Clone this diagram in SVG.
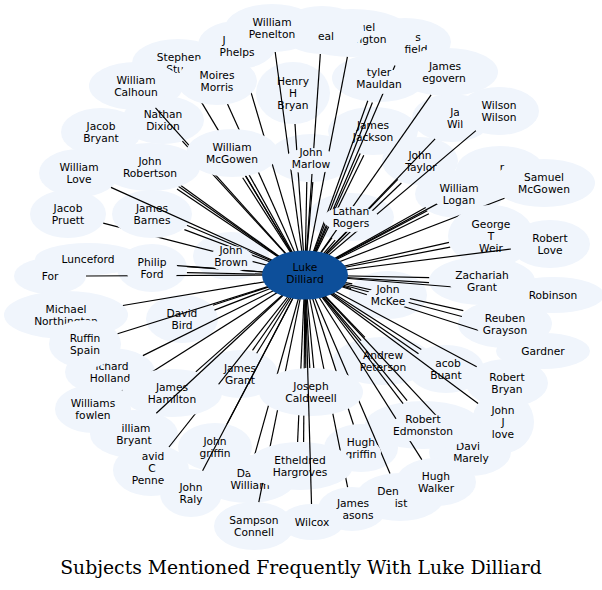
<svg xmlns="http://www.w3.org/2000/svg" width="602" height="590" viewBox="0 0 602 590">
<style>
.n ellipse{fill:#f0f5fc}
.n text{font-family:"DejaVu Sans","Liberation Sans",sans-serif;font-size:10.67px;fill:#000;text-anchor:middle}
#edges line{stroke:#000;stroke-width:1.2}
#n-luke ellipse{fill:#0d4f9a}
.title{font-family:"DejaVu Serif","Liberation Serif",serif;font-size:18.8px;fill:#000;text-anchor:middle}
.o{fill:#000}
</style>
<defs>
<mask id="occ" maskUnits="userSpaceOnUse" x="0" y="0" width="602" height="590">
<rect width="602" height="590" fill="#fff"/>
<ellipse class="o" cx="217" cy="81" rx="40" ry="24"/>
<ellipse class="o" cx="232" cy="153" rx="46" ry="24"/>
<ellipse class="o" cx="150" cy="167" rx="50" ry="24"/>
<ellipse class="o" cx="152" cy="214" rx="40" ry="24"/>
<ellipse class="o" cx="311" cy="392" rx="52" ry="24"/>
<ellipse class="o" cx="300" cy="466" rx="53" ry="24"/>
<ellipse class="o" cx="172" cy="393" rx="50" ry="24"/>
<ellipse class="o" cx="215" cy="447" rx="37" ry="24"/>
<ellipse class="o" cx="491" cy="236" rx="43" ry="31"/>
<ellipse class="o" cx="351" cy="219" rx="28" ry="13"/>
<ellipse class="o" cx="311" cy="161" rx="27" ry="13"/>
<ellipse class="o" cx="231" cy="259" rx="22" ry="13"/>
<ellipse class="o" cx="388" cy="298" rx="22" ry="13"/>
<ellipse class="o" cx="152" cy="270" rx="26" ry="17"/>
<ellipse class="o" cx="482" cy="284" rx="32" ry="13"/>
<ellipse class="o" cx="505" cy="327" rx="28" ry="13"/>
<ellipse class="o" cx="459" cy="197" rx="26" ry="13"/>
<ellipse class="o" cx="423" cy="428" rx="36" ry="14"/>
<ellipse class="o" cx="361" cy="452" rx="20" ry="12"/>
<ellipse class="o" cx="379" cy="81" rx="28" ry="13"/>
</mask>
</defs>
<rect width="602" height="590" fill="#fff"/>

<g id="n-hatfield" class="n"><ellipse cx="405" cy="42" rx="46" ry="24"/><text x="418" y="41">s</text><text x="416" y="53">field</text></g>
<g id="n-washington" class="n"><ellipse cx="352" cy="33" rx="59" ry="24"/><text x="367" y="31">uel</text><text x="371" y="43">ngton</text></g>
<g id="n-neal" class="n"><ellipse cx="322" cy="30" rx="42" ry="24"/><text x="326" y="40">eal</text></g>
<g id="n-stephen" class="n"><ellipse cx="178" cy="63" rx="46" ry="24"/><text x="179" y="61">Stephen</text><text x="175" y="73">Stu</text></g>
<g id="n-phelps" class="n"><ellipse cx="237" cy="45" rx="39" ry="24"/><text x="224" y="44">J</text><text x="237" y="56">Phelps</text></g>
<g id="n-jawil" class="n"><ellipse cx="452" cy="118" rx="40" ry="24"/><text x="455" y="116">Ja</text><text x="455" y="128">Wil</text></g>
<g id="n-rnode" class="n"><ellipse cx="500" cy="170" rx="44" ry="24"/><text x="502" y="171">r</text></g>
<g id="n-ford" class="n"><ellipse cx="50" cy="276" rx="36" ry="18"/><text x="50" y="280">For</text></g>
<g id="n-robinson" class="n"><ellipse cx="553" cy="295" rx="51" ry="18"/><text x="553" y="299">Robinson</text></g>
<g id="n-northington" class="n"><ellipse cx="66" cy="315" rx="62" ry="24"/><text x="66" y="313">Michael</text><text x="66" y="325">Northington</text></g>
<g id="n-holland" class="n"><ellipse cx="110" cy="372" rx="45" ry="24"/><text x="112" y="370">ichard</text><text x="110" y="382">Holland</text></g>
<g id="n-buant" class="n"><ellipse cx="446" cy="369" rx="38" ry="24"/><text x="448" y="367">acob</text><text x="446" y="379">Buant</text></g>
<g id="n-wbryant" class="n"><ellipse cx="134" cy="434" rx="44" ry="24"/><text x="136" y="432">illiam</text><text x="134" y="444">Bryant</text></g>
<g id="n-penne" class="n"><ellipse cx="151" cy="470" rx="38" ry="26"/><text x="153" y="460">avid</text><text x="152" y="472">C</text><text x="148" y="484">Penne</text></g>
<g id="n-marely" class="n"><ellipse cx="470" cy="452" rx="41" ry="24"/><text x="468" y="450">Davi</text><text x="471" y="462">Marely</text></g>
<g id="n-jlove" class="n"><ellipse cx="503" cy="422" rx="31" ry="31"/><text x="503" y="414">John</text><text x="503" y="426">J</text><text x="503" y="438">love</text></g>
<g id="n-dawilliams" class="n"><ellipse cx="248" cy="479" rx="48" ry="24"/><text x="244" y="477">Da</text><text x="250" y="489">William</text></g>
<g id="n-dennist" class="n"><ellipse cx="400" cy="497" rx="44" ry="24"/><text x="388" y="495">Den</text><text x="401" y="507">ist</text></g>
<g id="n-masons" class="n"><ellipse cx="352" cy="509" rx="34" ry="22"/><text x="353" y="507">James</text><text x="358" y="519">asons</text></g>

<g id="n-penelton" class="n"><ellipse cx="272" cy="28" rx="47" ry="24"/><text x="272" y="26">William</text><text x="272" y="38">Penelton</text></g>
<g id="n-tyler" class="n"><ellipse cx="379" cy="78" rx="47" ry="24"/><text x="379" y="76">tyler</text><text x="379" y="88">Mauldan</text></g>
<g id="n-mcgovern" class="n"><ellipse cx="447" cy="72" rx="51" ry="24"/><text x="445" y="70">James</text><text x="444" y="82">egovern</text></g>
<g id="n-wilson" class="n"><ellipse cx="499" cy="111" rx="40" ry="24"/><text x="499" y="109">Wilson</text><text x="499" y="121">Wilson</text></g>
<g id="n-calhoun" class="n"><ellipse cx="136" cy="86" rx="47" ry="24"/><text x="136" y="84">William</text><text x="136" y="96">Calhoun</text></g>
<g id="n-moires" class="n"><ellipse cx="217" cy="81" rx="40" ry="24"/><text x="217" y="79">Moires</text><text x="217" y="91">Morris</text></g>
<g id="n-henry" class="n"><ellipse cx="293" cy="93" rx="37" ry="31"/><text x="293" y="85">Henry</text><text x="293" y="97">H</text><text x="293" y="109">Bryan</text></g>
<g id="n-jacobbryant" class="n"><ellipse cx="101" cy="132" rx="40" ry="24"/><text x="101" y="130">Jacob</text><text x="101" y="142">Bryant</text></g>
<g id="n-nathan" class="n"><ellipse cx="163" cy="120" rx="41" ry="24"/><text x="163" y="118">Nathan</text><text x="163" y="130">Dixion</text></g>
<g id="n-wlove" class="n"><ellipse cx="79" cy="173" rx="40" ry="24"/><text x="79" y="171">William</text><text x="79" y="183">Love</text></g>
<g id="n-robertson" class="n"><ellipse cx="150" cy="167" rx="50" ry="24"/><text x="150" y="165">John</text><text x="150" y="177">Robertson</text></g>
<g id="n-pruett" class="n"><ellipse cx="68" cy="214" rx="38" ry="24"/><text x="68" y="212">Jacob</text><text x="68" y="224">Pruett</text></g>
<g id="n-barnes" class="n"><ellipse cx="152" cy="214" rx="40" ry="24"/><text x="152" y="212">James</text><text x="152" y="224">Barnes</text></g>
<g id="n-wmcgowen" class="n"><ellipse cx="232" cy="153" rx="46" ry="24"/><text x="232" y="151">William</text><text x="232" y="163">McGowen</text></g>
<g id="n-marlow" class="n"><ellipse cx="311" cy="158" rx="43" ry="24"/><text x="311" y="156">John</text><text x="311" y="168">Marlow</text></g>
<g id="n-jackson" class="n"><ellipse cx="373" cy="131" rx="45" ry="24"/><text x="373" y="129">James</text><text x="373" y="141">Jackson</text></g>
<g id="n-taylor" class="n"><ellipse cx="420" cy="161" rx="38" ry="24"/><text x="420" y="159">John</text><text x="421" y="171">Taylor</text></g>
<g id="n-samuelmcgowen" class="n"><ellipse cx="544" cy="183" rx="51" ry="24"/><text x="544" y="181">Samuel</text><text x="544" y="193">McGowen</text></g>
<g id="n-logan" class="n"><ellipse cx="459" cy="194" rx="44" ry="24"/><text x="459" y="192">William</text><text x="459" y="204">Logan</text></g>
<g id="n-lathan" class="n"><ellipse cx="351" cy="217" rx="43" ry="24"/><text x="351" y="215">Lathan</text><text x="351" y="227">Rogers</text></g>
<g id="n-weir" class="n"><ellipse cx="491" cy="236" rx="43" ry="31"/><text x="491" y="228">George</text><text x="491" y="240">T</text><text x="491" y="252">Weir</text></g>
<g id="n-rlove" class="n"><ellipse cx="550" cy="244" rx="40" ry="24"/><text x="550" y="242">Robert</text><text x="550" y="254">Love</text></g>
<g id="n-lunceford" class="n"><ellipse cx="88" cy="259" rx="53" ry="16"/><text x="88" y="263">Lunceford</text></g>
<g id="n-philip" class="n"><ellipse cx="152" cy="268" rx="35" ry="24"/><text x="152" y="266">Philip</text><text x="152" y="278">Ford</text></g>
<g id="n-brown" class="n"><ellipse cx="231" cy="256" rx="38" ry="24"/><text x="231" y="254">John</text><text x="231" y="266">Brown</text></g>
<g id="n-zachariah" class="n"><ellipse cx="482" cy="281" rx="53" ry="24"/><text x="482" y="279">Zachariah</text><text x="482" y="291">Grant</text></g>
<g id="n-mckee" class="n"><ellipse cx="388" cy="295" rx="39" ry="24"/><text x="388" y="293">John</text><text x="388" y="305">McKee</text></g>
<g id="n-bird" class="n"><ellipse cx="182" cy="319" rx="36" ry="24"/><text x="182" y="317">David</text><text x="182" y="329">Bird</text></g>
<g id="n-ruffin" class="n"><ellipse cx="85" cy="344" rx="36" ry="24"/><text x="85" y="342">Ruffin</text><text x="85" y="354">Spain</text></g>
<g id="n-grayson" class="n"><ellipse cx="505" cy="324" rx="47" ry="24"/><text x="505" y="322">Reuben</text><text x="505" y="334">Grayson</text></g>
<g id="n-gardner" class="n"><ellipse cx="543" cy="351" rx="47" ry="18"/><text x="543" y="355">Gardner</text></g>
<g id="n-peterson" class="n"><ellipse cx="383" cy="361" rx="50" ry="24"/><text x="383" y="359">Andrew</text><text x="383" y="371">Peterson</text></g>
<g id="n-grant" class="n"><ellipse cx="240" cy="374" rx="38" ry="24"/><text x="240" y="372">James</text><text x="240" y="384">Grant</text></g>
<g id="n-rbryan" class="n"><ellipse cx="507" cy="383" rx="41" ry="24"/><text x="507" y="381">Robert</text><text x="507" y="393">Bryan</text></g>
<g id="n-hamilton" class="n"><ellipse cx="172" cy="393" rx="50" ry="24"/><text x="172" y="391">James</text><text x="172" y="403">Hamilton</text></g>
<g id="n-fowlen" class="n"><ellipse cx="93" cy="409" rx="38" ry="24"/><text x="93" y="407">Williams</text><text x="93" y="419">fowlen</text></g>
<g id="n-caldweell" class="n"><ellipse cx="311" cy="392" rx="52" ry="24"/><text x="311" y="390">Joseph</text><text x="311" y="402">Caldweell</text></g>
<g id="n-edmonston" class="n"><ellipse cx="423" cy="425" rx="58" ry="24"/><text x="423" y="423">Robert</text><text x="423" y="435">Edmonston</text></g>
<g id="n-jgriffin" class="n"><ellipse cx="215" cy="447" rx="37" ry="24"/><text x="215" y="445">John</text><text x="215" y="457">griffin</text></g>
<g id="n-hgriffin" class="n"><ellipse cx="361" cy="448" rx="37" ry="24"/><text x="361" y="446">Hugh</text><text x="361" y="458">griffin</text></g>
<g id="n-etheldred" class="n"><ellipse cx="300" cy="466" rx="53" ry="24"/><text x="300" y="464">Etheldred</text><text x="300" y="476">Hargroves</text></g>
<g id="n-walker" class="n"><ellipse cx="436" cy="482" rx="40" ry="24"/><text x="436" y="480">Hugh</text><text x="436" y="492">Walker</text></g>
<g id="n-raly" class="n"><ellipse cx="191" cy="493" rx="31" ry="24"/><text x="191" y="491">John</text><text x="191" y="503">Raly</text></g>
<g id="n-wilcox" class="n"><ellipse cx="312" cy="522" rx="32" ry="18"/><text x="312" y="526">Wilcox</text></g>
<g id="n-sampson" class="n"><ellipse cx="254" cy="526" rx="40" ry="24"/><text x="254" y="524">Sampson</text><text x="254" y="536">Connell</text></g>

<g id="edges">
<g mask="url(#occ)">
<line x1="305" y1="275" x2="395" y2="65.4"/>
<line x1="305" y1="275" x2="347.4" y2="56.9"/>
<line x1="305" y1="275" x2="320.3" y2="54"/>
<line x1="305" y1="275" x2="191.7" y2="85.9"/>
<line x1="305" y1="275" x2="244" y2="68.6"/>
<line x1="305" y1="275" x2="435.1" y2="138.8"/>
<line x1="305" y1="275" x2="468.7" y2="186.9"/>
<line x1="305" y1="275" x2="86" y2="276"/>
<line x1="305" y1="275" x2="503.3" y2="291"/>
<line x1="305" y1="275" x2="122.9" y2="305.5"/>
<line x1="305" y1="275" x2="142.9" y2="355.6"/>
<line x1="305" y1="275" x2="418.5" y2="353.7"/>
<line x1="305" y1="275" x2="421.3" y2="349.5"/>
<line x1="305" y1="275" x2="169" y2="447"/>
<line x1="305" y1="275" x2="450.4" y2="430.9"/>
<line x1="305" y1="275" x2="478.1" y2="403.5"/>
<line x1="305" y1="275" x2="254.6" y2="455.2"/>
<line x1="305" y1="275" x2="390" y2="473.6"/>
<line x1="305" y1="275" x2="347.6" y2="487.2"/>
<line x1="305" y1="275" x2="275.2" y2="52"/>
<line x1="305" y1="275" x2="372.4" y2="102.5"/>
<line x1="305" y1="275" x2="367.8" y2="100.7"/>
<line x1="305" y1="275" x2="431.1" y2="94.8"/>
<line x1="305" y1="275" x2="475.9" y2="130.6"/>
<line x1="305" y1="275" x2="155.5" y2="107.8"/>
<line x1="305" y1="275" x2="227.5" y2="104.1"/>
<line x1="305" y1="275" x2="295" y2="124"/>
<line x1="305" y1="275" x2="127" y2="150.2"/>
<line x1="305" y1="275" x2="182.4" y2="141.2"/>
<line x1="305" y1="275" x2="179.8" y2="184.7"/>
<line x1="305" y1="275" x2="177" y2="188.9"/>
<line x1="305" y1="275" x2="103.2" y2="223.1"/>
<line x1="305" y1="275" x2="186.2" y2="225"/>
<line x1="305" y1="275" x2="184.4" y2="229.6"/>
<line x1="305" y1="275" x2="245.7" y2="175.9"/>
<line x1="305" y1="275" x2="248.7" y2="174.1"/>
<line x1="305" y1="275" x2="242.7" y2="177.7"/>
<line x1="305" y1="275" x2="306.8" y2="182"/>
<line x1="305" y1="275" x2="312.8" y2="182"/>
<line x1="305" y1="275" x2="363.8" y2="155.2"/>
<line x1="305" y1="275" x2="360.2" y2="153.4"/>
<line x1="305" y1="275" x2="401.4" y2="183"/>
<line x1="305" y1="275" x2="397.8" y2="179.4"/>
<line x1="305" y1="275" x2="504.5" y2="198.2"/>
<line x1="305" y1="275" x2="427.3" y2="210.7"/>
<line x1="305" y1="275" x2="428.9" y2="213.8"/>
<line x1="305" y1="275" x2="425.7" y2="207.6"/>
<line x1="305" y1="275" x2="335.2" y2="240.1"/>
<line x1="305" y1="275" x2="332" y2="237.7"/>
<line x1="305" y1="275" x2="450.2" y2="247.1"/>
<line x1="305" y1="275" x2="449.2" y2="242.3"/>
<line x1="305" y1="275" x2="139.5" y2="262.8"/>
<line x1="305" y1="275" x2="186.9" y2="266.6"/>
<line x1="305" y1="275" x2="186.9" y2="272.6"/>
<line x1="305" y1="275" x2="266.2" y2="265"/>
<line x1="305" y1="275" x2="429" y2="282.7"/>
<line x1="305" y1="275" x2="429.2" y2="277.7"/>
<line x1="305" y1="275" x2="351.1" y2="288.6"/>
<line x1="305" y1="275" x2="352.3" y2="283.8"/>
<line x1="305" y1="275" x2="212.9" y2="305.3"/>
<line x1="305" y1="275" x2="214.5" y2="310.1"/>
<line x1="305" y1="275" x2="117.6" y2="333.8"/>
<line x1="305" y1="275" x2="461.9" y2="316.5"/>
<line x1="305" y1="275" x2="463.3" y2="310.7"/>
<line x1="305" y1="275" x2="506.9" y2="339.5"/>
<line x1="305" y1="275" x2="361.1" y2="340.7"/>
<line x1="305" y1="275" x2="364.9" y2="337.3"/>
<line x1="305" y1="275" x2="252.5" y2="350.4"/>
<line x1="305" y1="275" x2="256.7" y2="353.2"/>
<line x1="305" y1="275" x2="476.7" y2="366.8"/>
<line x1="305" y1="275" x2="195.8" y2="371.9"/>
<line x1="305" y1="275" x2="122" y2="391"/>
<line x1="305" y1="275" x2="309.8" y2="368"/>
<line x1="305" y1="275" x2="305.8" y2="368"/>
<line x1="305" y1="275" x2="313.8" y2="368"/>
<line x1="305" y1="275" x2="403.1" y2="403.7"/>
<line x1="305" y1="275" x2="407.1" y2="400.7"/>
<line x1="305" y1="275" x2="226.9" y2="424.3"/>
<line x1="305" y1="275" x2="353.4" y2="424.5"/>
<line x1="305" y1="275" x2="297.6" y2="442"/>
<line x1="305" y1="275" x2="303.6" y2="442"/>
<line x1="305" y1="275" x2="421.8" y2="459.6"/>
<line x1="305" y1="275" x2="258.8" y2="502.2"/>
</g>
<g>
<line x1="305" y1="275" x2="111" y2="187.4"/>
<line x1="305" y1="275" x2="510.9" y2="249"/>
<line x1="305" y1="275" x2="156.3" y2="413.3"/>
<line x1="305" y1="275" x2="202.6" y2="470.8"/>
<line x1="305" y1="275" x2="311.5" y2="504"/>
</g>
</g>

<g id="n-luke" class="n"><ellipse cx="305" cy="275" rx="43" ry="24.5"/><text x="305" y="271">Luke</text><text x="305" y="283">Dilliard</text></g>

<text class="title" x="301" y="574">Subjects Mentioned Frequently With Luke Dilliard</text>
</svg>
